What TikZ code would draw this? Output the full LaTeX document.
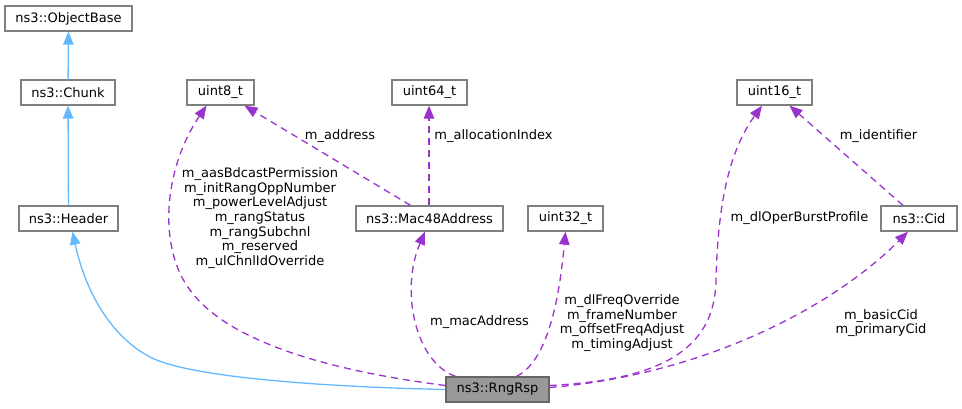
\documentclass[tikz,border=0pt]{standalone}
\usepackage{fontspec}
\setmainfont{DejaVu Sans}
\usepackage{tikz}
\usetikzlibrary{arrows.meta}
\usetikzlibrary{calc}
\definecolor{edgeblue}{HTML}{63B8FF}
\definecolor{edgepurple}{HTML}{9A32CD}
\definecolor{boxgray}{HTML}{7F7F7F}
\definecolor{boxfill}{HTML}{999999}
\newcommand{\dfont}{\fontsize{13}{14.7}\selectfont}
\tikzstyle{block} = [draw=boxgray,
	line width=1.3pt,
	fill=white,
	minimum height=25pt,
	inner xsep=3pt,
	font=\dfont]
\tikzstyle{lbl} = [align=center, inner sep=0pt, font=\dfont]
\tikzstyle{inherit} =[-{Triangle[length=13pt,width=10.5pt]}, draw=edgeblue, line width=1.3pt]
\tikzstyle{member} =[-{Triangle[length=13pt,width=10.5pt]}, draw=edgepurple, line width=1.3pt, dash pattern=on 7pt off 5pt]

\begin{document}
\begin{tikzpicture}[x=1pt, y=-1pt]
	\useasboundingbox (0,0) rectangle (962,408);
	
	\node (objbase) [block, minimum width=127pt] at (68.5,18.5) {ns3::ObjectBase};
	\node (chunk) [block, minimum width=94pt] at (68,92.5) {ns3::Chunk};
	\node (hdr) [block, minimum width=99pt] at (68.5,218.5) {ns3::Header};
	\node (u8) [block, minimum width=67pt] at (220.5,92.5) {uint8\_t};
	\node (u64) [block, minimum width=75pt] at (429.5,92.5) {uint64\_t};
	\node (u16) [block, minimum width=75pt] at (774.5,92.5) {uint16\_t};
	\node (mac) [block, minimum width=147pt] at (429.5,218.5) {ns3::Mac48Address};
	\node (u32) [block, minimum width=75pt] at (565.5,218.5) {uint32\_t};
	\node (cid) [block, minimum width=76pt] at (919,218.5) {ns3::Cid};
	\node (rsp) [block, minimum width=103pt, fill=boxfill, draw=black!60] at (497.5,389.5) {ns3::RngRsp};
	
	% inheritance
	\draw [inherit] (chunk) -- (objbase);
	\draw [inherit] (hdr) -- (chunk);
	\draw [inherit] (rsp.west) .. controls (330,387) and (190,378) .. (150,357)
		.. controls (110,336) and (85,290) .. ($(hdr.south)+(4,0)$);
	
	% members
	\draw [member] ($(rsp.west)+(0,-4)$) .. controls (340,372) and (230,345) .. (190,290)
		.. controls (158,248) and (163,170) .. ($(u8.south)+(-14,0)$);
	\node (lblU8) [lbl] at (260,218) {m\_aasBdcastPermission\\m\_initRangOppNumber\\m\_powerLevelAdjust\\m\_rangStatus\\m\_rangSubchnl\\m\_reserved\\m\_ulChnlIdOverride};
	
	\draw [member] ($(mac.north)+(-19,0)$) -- ($(u8.south)+(24,0)$);
	\node (lblAddr) [lbl] at (340,136) {m\_address};
	
	\draw [member] ($(mac.north)+(-0.5,0)$) -- ($(u64.south)+(-0.5,0)$);
	\node (lblAlloc) [lbl] at (493.5,136) {m\_allocationIndex};
	
	\draw [member] ($(rsp.north)+(-42,0)$) .. controls (415,362) and (400,290) .. ($(mac.south)+(-4.5,0)$);
	\node (lblMac) [lbl] at (479.5,322) {m\_macAddress};
	
	\draw [member] ($(rsp.north)+(19,0)$) .. controls (550,360) and (560,290) .. (u32.south);
	\node (lblU32) [lbl] at (622,323) {m\_dlFreqOverride\\m\_frameNumber\\m\_offsetFreqAdjust\\m\_timingAdjust};
	
	\draw [member] ($(rsp.east)+(0,-4)$) .. controls (660,380) and (715,350) .. (716,280)
		.. controls (718,200) and (730,150) .. ($(u16.south)+(-12.5,0)$);
	\node (lblBurst) [lbl] at (799.5,218) {m\_dlOperBurstProfile};
	
	\draw [member] ($(cid.north)+(-16,0)$) -- ($(u16.south)+(15,0)$);
	\node (lblIdent) [lbl] at (878.5,136) {m\_identifier};
	
	\draw [member] ($(rsp.east)+(0,-2)$) .. controls (700,375) and (830,310) .. ($(cid.south)+(-11,0)$);
	\node (lblCid) [lbl] at (881,323) {m\_basicCid\\m\_primaryCid};
\end{tikzpicture}
\end{document}
